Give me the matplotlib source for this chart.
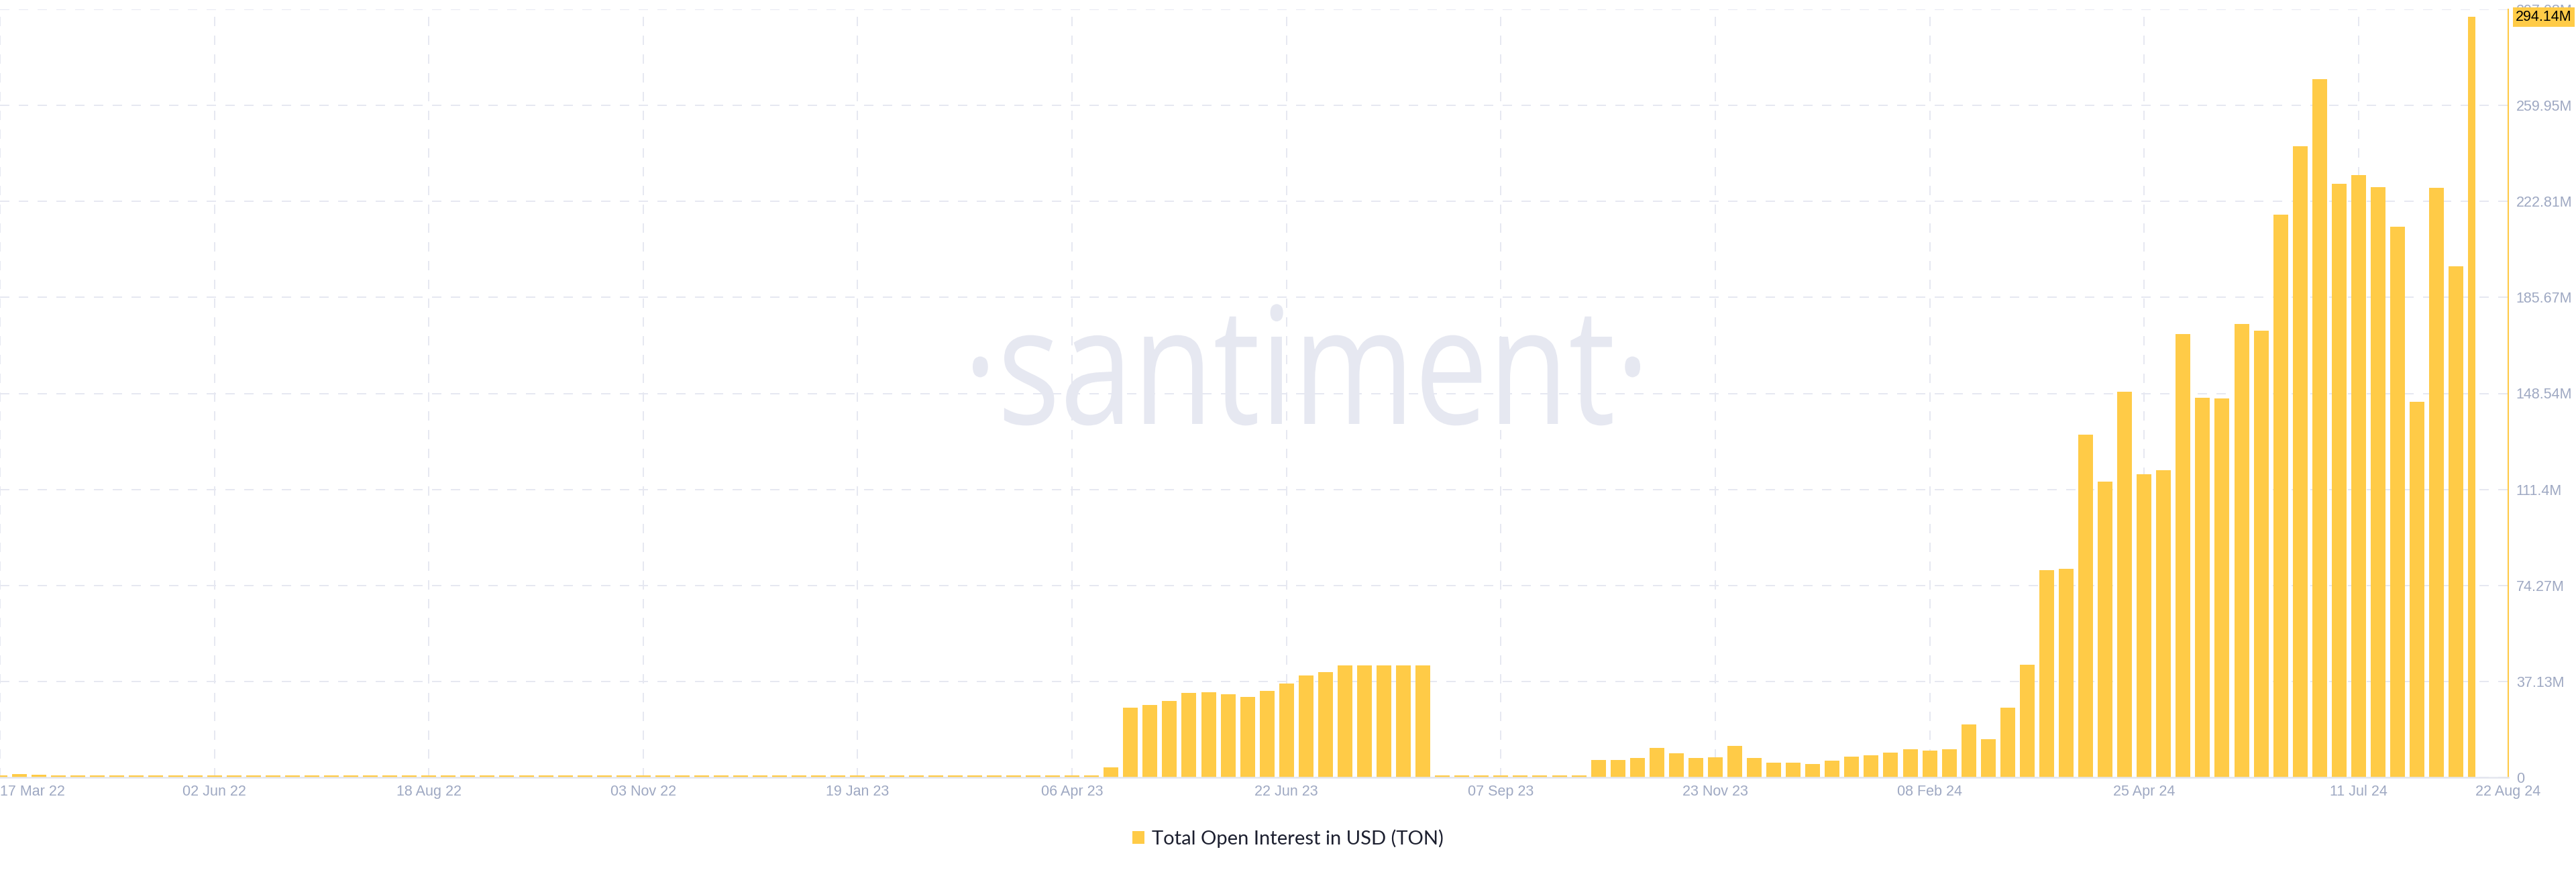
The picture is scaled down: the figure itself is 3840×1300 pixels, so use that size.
import matplotlib
matplotlib.use("Agg")
import matplotlib.pyplot as plt
import matplotlib.dates as mdates
import pandas as pd
from matplotlib.patches import Patch, PathPatch
from matplotlib.textpath import TextPath
from matplotlib.font_manager import FontProperties
from matplotlib.transforms import Affine2D, blended_transform_factory

# colours
BAR_COLOR = "#FFCB47"
GRID_COLOR = "#E6E8F1"
TICK_COLOR = "#9EA8C2"
WATERMARK_COLOR = "#E6E8F1"

# weekly open interest, millions USD, first bar is 17 Mar 22
start_date = "2022-03-17"
oi_values = [
    0.7, 1.2, 1.15, 0.9, 0.7, 0.7, 0.7, 0.7, 0.7, 0.7,
    0.7, 0.7, 0.7, 0.7, 0.7, 0.7, 0.7, 0.7, 0.7, 0.7,
    0.7, 0.7, 0.7, 0.7, 0.7, 0.7, 0.7, 0.7, 0.7, 0.7,
    0.7, 0.7, 0.7, 0.7, 0.7, 0.7, 0.7, 0.7, 0.7, 0.7,
    0.7, 0.7, 0.7, 0.7, 0.7, 0.7, 0.7, 0.7, 0.7, 0.7,
    0.7, 0.7, 0.7, 0.7, 0.7, 0.7, 0.7, 3.9, 26.9, 28.0,
    29.7, 32.6, 33.0, 32.2, 31.1, 33.5, 36.4, 39.5, 40.7, 43.2,
    43.2, 43.2, 43.2, 43.2, 0.75, 0.75, 0.75, 0.75, 0.75, 0.75,
    0.75, 0.75, 6.8, 6.8, 7.6, 11.3, 9.4, 7.5, 7.8, 12.2,
    7.6, 5.8, 5.8, 5.1, 6.4, 8.1, 8.6, 9.5, 11.0, 10.5,
    10.9, 20.6, 14.9, 27.0, 43.6, 80.3, 80.7, 132.7, 114.5, 149.3,
    117.2, 118.9, 171.4, 146.9, 146.6, 175.4, 172.9, 217.8, 244.2, 270.2,
    229.5, 233.0, 228.3, 212.9, 145.4, 228.0, 197.6, 294.14,
]
week_dates = pd.date_range(start_date, periods=len(oi_values), freq="7D")

tick_dates = ["2022-03-17", "2022-06-02", "2022-08-18", "2022-11-03",
              "2023-01-19", "2023-04-06", "2023-06-22", "2023-09-07",
              "2023-11-23", "2024-02-08", "2024-04-25", "2024-07-11",
              "2024-08-22"]
y_ticks = [0, 37.135, 74.27, 111.405, 148.54, 185.675, 222.81, 259.945, 297.08]
y_labels = ["0", "37.13M", "74.27M", "111.4M", "148.54M", "185.67M",
            "222.81M", "259.95M", "297.08M"]
last_label = "294.14M"
series_name = "Total Open Interest in USD (TON)"

plt.rcParams['font.family'] = ['Liberation Sans', 'DejaVu Sans']

W, H = 3840, 1300
fig = plt.figure(figsize=(W / 100, H / 100), dpi=100)
ax = fig.add_axes([0, 1 - 1159 / H, 3739 / W, (1159 - 14) / H])
ax.set_facecolor("none")

# bars, first and last are cut in half like the original
x = mdates.date2num(week_dates)
bar_w = 7 * 0.757
lefts = [v - bar_w / 2 for v in x]
widths = [bar_w] * len(x)
lefts[0] = x[0]
widths[0] = bar_w / 2
widths[-1] = bar_w / 2
ax.bar(lefts, oi_values, width=widths, align="edge", color=BAR_COLOR,
       linewidth=0, zorder=2)

ax.set_xlim(x[0], x[0] + 128.68 * 7)
ax.set_ylim(0, y_ticks[-1])

# x axis
ax.set_xticks(mdates.date2num(pd.to_datetime(tick_dates)))
ax.set_xticklabels([pd.Timestamp(d).strftime("%d %b %y") for d in tick_dates])
ax.tick_params(axis="x", length=0, pad=8, labelsize=15.5, labelcolor=TICK_COLOR)
xl = ax.get_xticklabels()
xl[0].set_ha("left")
xl[-1].set_ha("left")

# y axis on the right
ax.yaxis.tick_right()
ax.set_yticks(y_ticks)
ax.set_yticklabels(y_labels)
ax.tick_params(axis="y", length=0, pad=8.5, labelsize=15.5, labelcolor=TICK_COLOR)

ax.set_axisbelow(True)
ax.grid(True, color=GRID_COLOR, linewidth=1.44, linestyle=(0, (7, 7)))
ax.xaxis.get_gridlines()[-1].set_visible(False)

for side in ["left", "top"]:
    ax.spines[side].set_visible(False)
ax.spines["right"].set_color(BAR_COLOR)
ax.spines["right"].set_linewidth(1.5)
ax.spines["bottom"].set_color("#E4E6EF")
ax.spines["bottom"].set_linewidth(1.8)

# last value marker on the axis, sits over the top tick label
ax.text(1.0 + 11 / 3739, oi_values[-1], last_label,
        transform=blended_transform_factory(ax.transAxes, ax.transData),
        ha="left", va="center", fontsize=15.5, color="black",
        bbox=dict(boxstyle="square,pad=0.2", fc=BAR_COLOR, ec="none"),
        clip_on=False, zorder=5)

# watermark, slightly condensed
wm_path = TextPath((0, 0), "·santiment·", size=1,
                   prop=FontProperties(family="Open Sans"))
ext = wm_path.get_extents()
sy = 243.0
sx = 995.0 / ext.width
tr = (Affine2D().scale(sx, sy).translate(1450 - ext.x0 * sx, H - 632)
      + Affine2D().scale(1 / W, 1 / H) + fig.transFigure)
fig.add_artist(PathPatch(wm_path, transform=tr, facecolor=WATERMARK_COLOR,
                         edgecolor="none", zorder=-1))

# legend
fig.legend(handles=[Patch(facecolor=BAR_COLOR, label=series_name)],
           loc="center", bbox_to_anchor=(0.5, 1 - 1250 / H), frameon=False,
           prop=FontProperties(family="Lato", size=21), labelcolor="#1C1F2F",
           handlelength=0.62, handleheight=0.62, handletextpad=0.4)

fig.savefig("out.png", dpi=100)
